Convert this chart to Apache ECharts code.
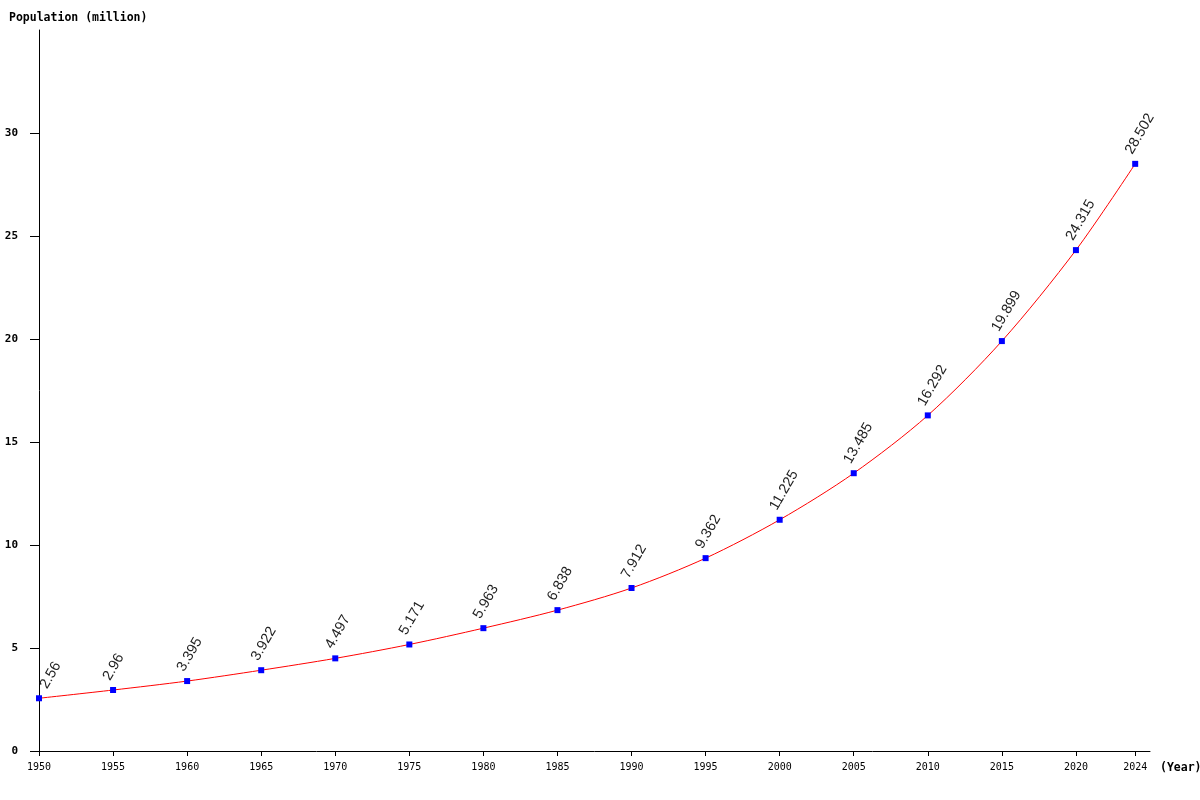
<!DOCTYPE html>
<html><head><meta charset="utf-8">
<script src="https://cdn.jsdelivr.net/npm/echarts@6/dist/echarts.min.js"></script>
<style>html,body{margin:0;padding:0;background:#fff}#c{width:1200px;height:800px}</style>
</head><body><div id="c"></div>
<script>
const years = [1950,1955,1960,1965,1970,1975,1980,1985,1990,1995,2000,2005,2010,2015,2020,2024];
const population = [2.56,2.96,3.395,3.922,4.497,5.171,5.963,6.838,7.912,9.362,11.225,13.485,16.292,19.899,24.315,28.502];
const yTicks = [0,5,10,15,20,25,30];
const yAxisTitle = 'Population (million)';
const xAxisTitle = '(Year)';

const chart = echarts.init(document.getElementById('c'));
chart.setOption({
  animation: false,
  grid: {left: 39, right: 50, top: 30, bottom: 49, outerBoundsMode: 'none', containLabel: false},
  xAxis: {
    type: 'value', min: 1950, max: 2025,
    splitLine: {show: false},
    axisLine: {lineStyle: {color: '#000', width: 1}},
    axisTick: {show: true, length: 5, lineStyle: {color: '#000'}, customValues: years},
    axisLabel: {customValues: years, color: '#000', fontFamily: 'DejaVu Sans Mono', fontSize: 10, margin: 11,
      formatter: v => String(v)},
    name: xAxisTitle, nameLocation: 'end', nameGap: 10,
    nameTextStyle: {color: '#000', fontFamily: 'DejaVu Sans Mono', fontWeight: 'bold', fontSize: 11.5, verticalAlign: 'top', padding: [11,0,0,0]}
  },
  yAxis: {
    type: 'value', min: 0, max: 35,
    splitLine: {show: false},
    axisLine: {show: true, lineStyle: {color: '#000', width: 1}},
    axisTick: {show: true, length: 9, lineStyle: {color: '#000'}, customValues: yTicks},
    axisLabel: {customValues: yTicks, color: '#000', fontFamily: 'DejaVu Sans Mono', fontWeight: 'bold', fontSize: 11, margin: 21},
    name: yAxisTitle, nameLocation: 'end', nameGap: 6,
    nameTextStyle: {color: '#000', fontFamily: 'DejaVu Sans Mono', fontWeight: 'bold', fontSize: 11.5, align: 'left', padding: [0,0,0,-30]}
  },
  series: [{
    type: 'line',
    data: years.map((y,i) => i === 0
      ? {value: [y, population[i]], label: {position: [14, -4]}}
      : [y, population[i]]),
    smooth: 0.3,
    lineStyle: {color: '#ff0000', width: 1},
    symbol: 'rect', symbolSize: 6,
    itemStyle: {color: '#0000ff'},
    label: {
      show: true, position: [3, -4], rotate: 60, align: 'left', verticalAlign: 'bottom',
      color: '#222', fontFamily: 'Liberation Sans', fontSize: 14.5,
      formatter: p => String(p.value[1])
    }
  }]
});
</script></body></html>
